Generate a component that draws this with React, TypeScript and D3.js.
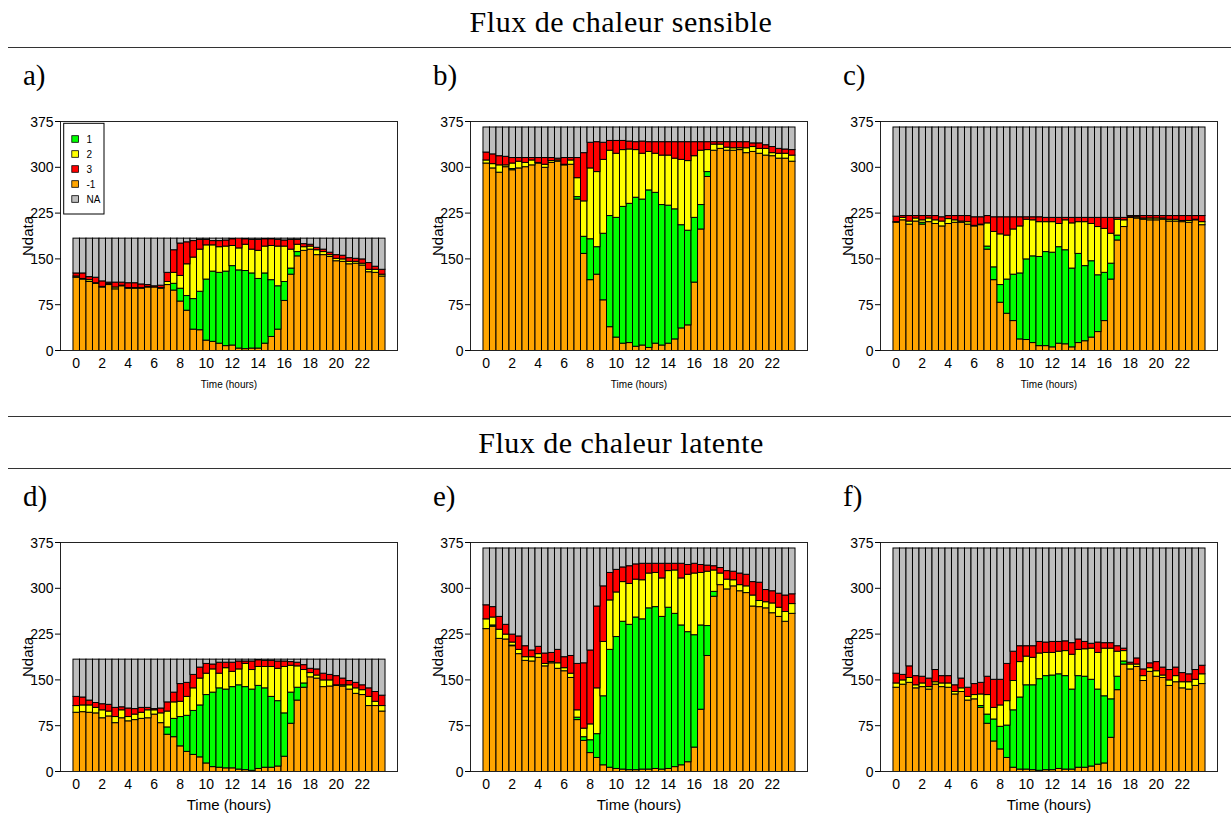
import React from "react";
import * as d3 from "d3";

// Half-hourly slots, 0.0 .. 23.5 h
const slots = d3.range(48).map((i) => i / 2);
const hourTicks = d3.range(0, 24, 2);
const yTicks = [0, 75, 150, 225, 300, 375];
const stackKeys = ["m1", "c1", "c2", "c3", "na"];
const classColors: Record<string, string> = {
  m1: "#FFA500",
  c1: "#00FF00",
  c2: "#FFFF00",
  c3: "#FF0000",
  na: "#BEBEBE",
};
const legendItems = [
  { key: "c1", label: "1" },
  { key: "c2", label: "2" },
  { key: "c3", label: "3" },
  { key: "m1", label: "-1" },
  { key: "na", label: "NA" },
];

// ---- Sensible heat flux ----
const aDays = 184;
const aMinus1 = [120,117,113,110,104,108,101,106,102,102,102,104,104,102,108,99,81,66,35,34,17,15,12,8,9,4,3,4,4,12,23,35,82,125,155,164,166,157,157,154,147,146,142,143,140,129,128,122];
const aClass1 = [0,0,0,0,0,0,0,0,0,0,0,0,0,0,0,11,21,24,50,63,100,115,116,122,130,128,128,123,114,115,93,71,31,10,7,0,0,0,0,0,0,0,0,0,0,0,0,0];
const aClass2 = [2,1,3,1,1,2,3,1,1,1,1,1,0,1,5,18,21,52,68,69,56,43,42,41,33,36,43,39,46,44,56,65,58,31,12,6,5,8,5,3,4,4,4,3,3,4,5,3];
const aClass3 = [5,9,5,9,9,2,8,5,8,8,6,3,2,4,15,37,53,36,27,16,9,7,10,10,11,16,9,16,18,12,11,11,10,16,8,5,3,4,4,4,6,6,6,5,7,11,5,8];

const bDays = 366;
const bMinus1 = [307,299,292,301,296,299,301,304,307,300,308,310,304,305,248,159,116,125,83,39,22,12,13,7,9,5,12,9,12,19,37,42,112,199,285,328,331,328,328,329,324,326,323,320,319,315,315,310];
const bClass1 = [0,0,0,0,2,0,0,0,0,0,0,0,0,0,4,28,67,45,109,182,196,224,228,244,239,258,247,230,226,213,169,155,106,40,8,0,0,0,0,0,0,0,0,0,0,0,0,0];
const bClass2 = [5,7,12,3,9,11,7,8,1,5,3,2,1,7,31,58,116,123,121,107,105,93,89,78,75,63,64,81,82,83,107,114,101,89,36,10,7,5,4,3,8,8,8,11,5,8,8,10];
const bClass3 = [13,16,15,14,9,6,8,4,8,11,5,3,11,4,33,79,42,49,28,16,21,15,13,13,20,16,19,22,22,27,29,31,23,14,13,4,4,9,10,10,10,6,9,6,10,8,7,9];

const cDays = 366;
const cMinus1 = [210,214,207,212,207,211,208,204,208,210,210,207,204,206,166,116,79,61,49,19,18,13,8,8,6,12,11,6,13,16,22,31,49,117,181,203,218,217,215,214,214,215,212,212,211,210,214,206];
const cClass1 = [0,0,0,0,3,0,0,0,0,0,0,0,0,0,5,21,29,56,76,108,132,142,146,154,155,158,154,129,146,123,125,93,79,26,8,0,0,0,0,0,0,0,0,0,0,0,0,0];
const cClass2 = [1,4,5,5,4,6,6,8,8,4,2,4,1,1,38,58,83,72,74,77,65,59,57,49,50,38,49,74,52,72,61,79,72,49,26,11,1,2,2,3,3,2,3,3,2,3,1,5];
const cClass3 = [9,3,9,4,7,4,7,7,5,7,9,10,14,12,12,24,28,30,20,15,4,5,8,7,7,10,4,9,7,7,10,15,18,26,3,4,2,2,4,4,4,4,6,6,8,8,6,10];

// ---- Latent heat flux ----
const dDays = 184;
const dMinus1 = [97,98,97,96,88,91,80,88,83,85,87,88,94,80,61,57,42,33,28,24,14,8,7,6,6,4,3,2,5,7,7,9,25,79,117,138,155,153,139,140,141,140,135,128,126,108,108,99];
const dClass1 = [0,0,0,0,0,0,0,0,0,0,0,0,0,0,12,30,48,59,72,85,112,122,130,129,133,138,136,133,136,130,116,107,71,51,21,7,0,0,0,0,0,0,0,0,0,0,0,0];
const dClass2 = [11,11,12,9,13,8,10,13,7,9,10,13,7,16,26,27,25,31,37,44,35,38,24,35,25,26,38,32,31,35,49,53,76,44,35,22,7,5,11,10,1,2,7,9,8,15,7,9];
const dClass3 = [15,13,8,8,10,11,15,5,14,9,8,4,2,8,15,16,29,23,22,18,16,8,18,9,15,13,4,14,11,10,10,12,9,6,6,8,7,10,11,9,15,11,7,9,8,14,16,17];

const eDays = 366;
const eMinus1 = [234,238,218,217,206,193,182,181,187,173,178,169,165,154,85,51,31,23,11,7,5,4,3,3,4,4,5,4,5,8,11,16,40,102,190,287,306,299,304,296,293,271,270,268,260,254,246,259];
const eClass1 = [0,2,0,0,1,0,0,0,0,0,0,0,0,0,4,6,21,39,113,193,216,242,238,250,246,264,265,250,264,251,229,213,184,138,49,8,0,0,0,0,0,0,0,0,0,0,0,0];
const eClass2 = [16,13,15,8,5,7,6,7,6,4,2,9,5,7,12,14,26,75,89,81,73,65,67,62,64,57,56,63,60,71,77,94,101,86,89,35,19,16,10,10,11,18,10,10,16,15,16,16];
const eClass3 = [23,17,21,16,13,22,18,11,12,17,15,22,18,29,76,107,121,134,91,45,37,24,29,25,27,16,15,24,12,11,24,16,16,13,10,7,9,14,14,19,19,22,30,20,20,23,27,16];

const fDays = 366;
const fMinus1 = [138,143,146,137,139,135,143,139,138,127,131,117,119,105,79,50,37,23,7,4,4,3,2,3,3,5,4,4,7,7,9,12,14,56,134,176,168,172,149,164,156,154,141,147,137,135,141,144];
const fClass1 = [0,0,0,0,0,0,0,0,0,0,0,0,0,3,15,36,37,53,94,118,138,139,150,154,155,155,153,131,150,149,142,123,110,63,22,5,0,0,0,0,0,0,0,0,0,0,0,0];
const fClass2 = [7,7,8,5,6,4,4,6,7,4,6,6,7,19,32,19,35,40,48,58,47,45,42,38,37,37,41,57,43,45,51,60,78,83,41,17,8,4,8,6,9,4,9,10,10,12,10,16];
const fClass3 = [16,9,19,15,11,14,20,12,12,11,16,15,18,19,30,46,42,61,48,26,17,19,19,17,18,16,16,19,17,12,8,17,9,9,9,4,3,10,11,8,15,13,17,14,15,13,16,14];

type PanelSpec = {
  tag: string;
  left: number;
  top: number;
  days: number;
  m1: number[];
  c1: number[];
  c2: number[];
  c3: number[];
  legend: boolean;
  bigXLabel: boolean;
};

const PLOT_W = 337;
const PLOT_H = 229;
const ROW1_TOP = 121.5;
const ROW2_TOP = 542.5;
const COLS = [60.5, 470.5, 880.5];

const panels: PanelSpec[] = [
  { tag: "a)", left: COLS[0], top: ROW1_TOP, days: aDays, m1: aMinus1, c1: aClass1, c2: aClass2, c3: aClass3, legend: true, bigXLabel: false },
  { tag: "b)", left: COLS[1], top: ROW1_TOP, days: bDays, m1: bMinus1, c1: bClass1, c2: bClass2, c3: bClass3, legend: false, bigXLabel: false },
  { tag: "c)", left: COLS[2], top: ROW1_TOP, days: cDays, m1: cMinus1, c1: cClass1, c2: cClass2, c3: cClass3, legend: false, bigXLabel: false },
  { tag: "d)", left: COLS[0], top: ROW2_TOP, days: dDays, m1: dMinus1, c1: dClass1, c2: dClass2, c3: dClass3, legend: false, bigXLabel: true },
  { tag: "e)", left: COLS[1], top: ROW2_TOP, days: eDays, m1: eMinus1, c1: eClass1, c2: eClass2, c3: eClass3, legend: false, bigXLabel: true },
  { tag: "f)", left: COLS[2], top: ROW2_TOP, days: fDays, m1: fMinus1, c1: fClass1, c2: fClass2, c3: fClass3, legend: false, bigXLabel: true },
];

const SANS = "'Liberation Sans', Arial, Helvetica, sans-serif";
const SERIF = "'Liberation Serif', 'Times New Roman', serif";

function Panel({ p }: { p: PanelSpec }) {
  const n = slots.length;
  const x = d3
    .scaleLinear()
    .domain([-0.04 * n, n * 1.04])
    .range([p.left, p.left + PLOT_W]);
  const bottom = p.top + PLOT_H;
  const y = d3.scaleLinear().domain([0, 375]).range([bottom, p.top]);

  const rows = slots.map((_, i) => {
    const known = p.m1[i] + p.c1[i] + p.c2[i] + p.c3[i];
    return { i, m1: p.m1[i], c1: p.c1[i], c2: p.c2[i], c3: p.c3[i], na: p.days - known };
  });
  const series = d3.stack<any>().keys(stackKeys)(rows);
  const midY = (p.top + bottom) / 2;

  return (
    <g>
      <text x={p.left - 37.5} y={p.top - 37} fontFamily={SERIF} fontSize={29} fill="#000">
        {p.tag}
      </text>
      {series.map((s) => (
        <g key={s.key} fill={classColors[s.key]}>
          {s.map((d, i) => (
            <rect
              key={i}
              x={x(i)}
              width={x(i + 1) - x(i)}
              y={y(d[1])}
              height={Math.max(0, y(d[0]) - y(d[1]))}
              stroke="#000"
              strokeWidth={1}
            />
          ))}
        </g>
      ))}
      {/* plot frame */}
      <rect x={p.left} y={p.top} width={PLOT_W} height={PLOT_H} fill="none" stroke="#222" strokeWidth={1} />
      {/* y axis */}
      {yTicks.map((t) => (
        <g key={t}>
          <line x1={p.left - 5.5} x2={p.left} y1={y(t)} y2={y(t)} stroke="#000" />
          <text x={p.left - 7} y={y(t) + 5} textAnchor="end" fontFamily={SANS} fontSize={14} fill="#000">
            {t}
          </text>
        </g>
      ))}
      <text
        transform={`translate(${p.left - 27.5},${midY}) rotate(-90)`}
        textAnchor="middle"
        fontFamily={SANS}
        fontSize={15}
        fill="#000"
      >
        Ndata
      </text>
      {/* x axis labels */}
      {hourTicks.map((h) => (
        <text key={h} x={x(h * 2 + 0.5)} y={bottom + 17.5} textAnchor="middle" fontFamily={SANS} fontSize={14} fill="#000">
          {h}
        </text>
      ))}
      <text
        x={p.left + PLOT_W / 2}
        y={bottom + (p.bigXLabel ? 38.5 : 37)}
        textAnchor="middle"
        fontFamily={SANS}
        fontSize={p.bigXLabel ? 15 : 10}
        fill="#000"
      >
        Time (hours)
      </text>
      {p.legend && (
        <g>
          <rect x={p.left + 3.2} y={p.top + 1.8} width={40.3} height={90.7} fill="#fff" stroke="#000" strokeWidth={1} />
          {legendItems.map((it, k) => {
            const cy = p.top + 17.5 + k * 15;
            return (
              <g key={it.key}>
                <rect x={p.left + 11.3} y={cy - 3.3} width={6.6} height={6.6} fill={classColors[it.key]} stroke="#000" strokeWidth={0.8} />
                <text x={p.left + 26} y={cy + 3.6} fontFamily={SANS} fontSize={10} fill="#000">
                  {it.label}
                </text>
              </g>
            );
          })}
        </g>
      )}
    </g>
  );
}

export default function App() {
  return (
    <svg
      width={1231}
      height={816}
      style={{ position: "absolute", left: 0, top: 0, background: "#fff" }}
    >
      <rect x={0} y={0} width={1231} height={816} fill="#fff" />
      <text x={621} y={32} textAnchor="middle" fontFamily={SERIF} fontSize={30} letterSpacing={0.5} fill="#000">
        Flux de chaleur sensible
      </text>
      <line x1={8} x2={1231} y1={47.5} y2={47.5} stroke="#333" strokeWidth={1} />
      <line x1={8} x2={1231} y1={416.5} y2={416.5} stroke="#333" strokeWidth={1} />
      <text x={621} y={453} textAnchor="middle" fontFamily={SERIF} fontSize={30} letterSpacing={0.5} fill="#000">
        Flux de chaleur latente
      </text>
      <line x1={8} x2={1231} y1={468.5} y2={468.5} stroke="#333" strokeWidth={1} />
      {panels.map((p) => (
        <Panel key={p.tag} p={p} />
      ))}
    </svg>
  );
}
